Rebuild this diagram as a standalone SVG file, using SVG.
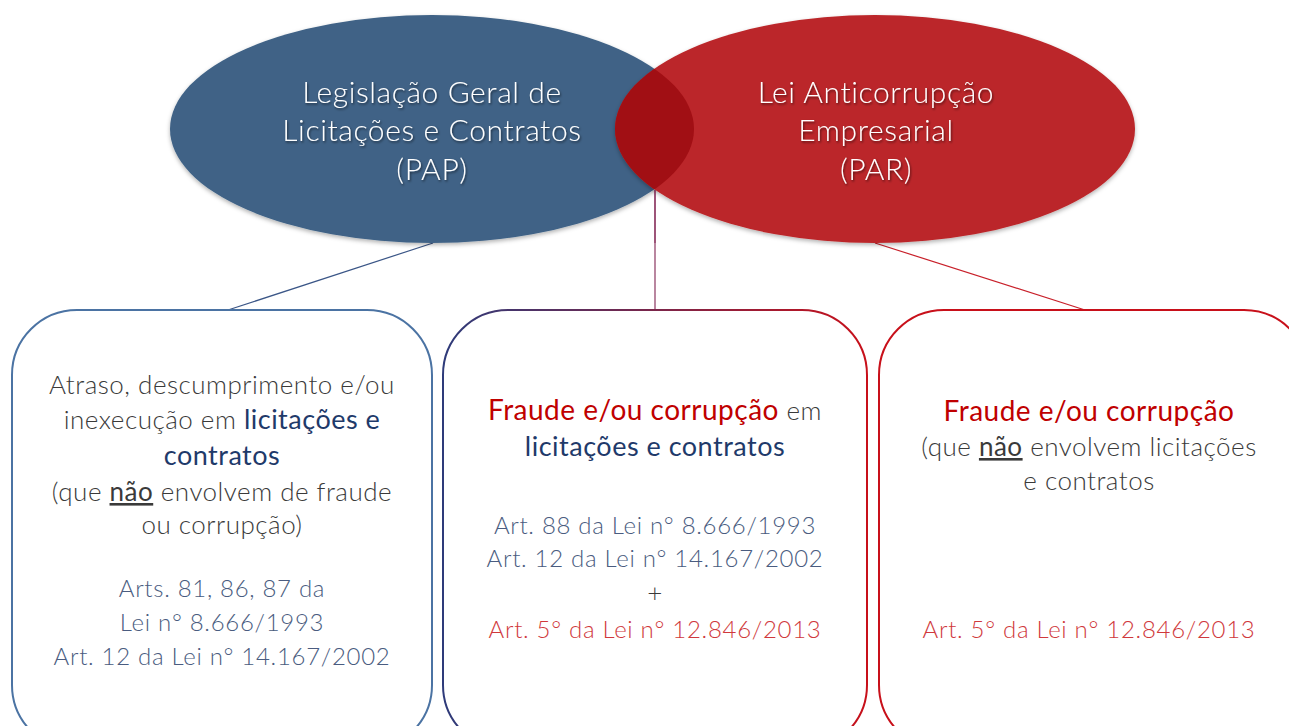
<svg xmlns="http://www.w3.org/2000/svg" width="1289" height="726" viewBox="0 0 1289 726">
<defs>
<style>
text{font-family:Lato,"Open Sans","Liberation Sans",sans-serif;text-anchor:middle}
.et{fill:#fff;font-size:30px;font-weight:300;letter-spacing:0.6px;filter:url(#ts)}
.bt{font-size:26px;font-weight:300;fill:#3a3a3a;letter-spacing:0.5px}
.nv{fill:#1f3a6a;font-weight:400;font-size:27px}
.rd{fill:#c00000;font-weight:400;font-size:28px}
.ar{fill:#4a5c80;font-size:24px;letter-spacing:0.7px}
.ar2{fill:#d0393c;font-size:24px;letter-spacing:0.7px}
.box{fill:#fff;stroke-width:2}
</style>
<filter id="ts" x="-10%" y="-10%" width="120%" height="130%"><feDropShadow dx="1" dy="1.5" stdDeviation="1" flood-color="#000" flood-opacity="0.55"/></filter>
<filter id="es" x="-5%" y="-5%" width="110%" height="115%"><feDropShadow dx="0" dy="2" stdDeviation="2" flood-color="#000" flood-opacity="0.3"/></filter>
<clipPath id="cb"><ellipse cx="432" cy="129" rx="262" ry="114"/></clipPath>
<linearGradient id="g2" x1="0" y1="0" x2="1" y2="0"><stop offset="0" stop-color="#2e3b7a"/><stop offset="1" stop-color="#c8101a"/></linearGradient>
</defs>
<rect width="1289" height="726" fill="#fff"/>
<g id="connectors" fill="none" stroke-width="1.2">
<line x1="433" y1="243" x2="228" y2="310" stroke="#3b5687"/>
<line x1="655" y1="190" x2="655" y2="310" stroke="#8a3560"/>
<line x1="875" y1="243" x2="1085" y2="310" stroke="#c8202a"/>
</g>
<g id="ellipse-pap">
<ellipse cx="432" cy="129" rx="262" ry="114" fill="#3f6286" filter="url(#es)"/>
</g>
<g id="ellipse-par">
<ellipse cx="875" cy="129" rx="260" ry="114" fill="#bb2629" filter="url(#es)"/>
<ellipse cx="875" cy="129" rx="260" ry="114" fill="#a10f14" clip-path="url(#cb)"/>
<line x1="655" y1="190" x2="655" y2="243" stroke="#8a3560" stroke-width="1.2"/>
</g>
<g id="label-pap">
<text class="et" x="432" y="103">Legislação Geral de</text>
<text class="et" x="432" y="141">Licitações e Contratos</text>
<text class="et" x="432" y="180">(PAP)</text>
</g>
<g id="label-par">
<text class="et" x="876" y="103">Lei Anticorrupção</text>
<text class="et" x="876" y="141">Empresarial</text>
<text class="et" x="876" y="180">(PAR)</text>
</g>
<g id="box1">
<rect class="box" x="12" y="310" width="420" height="440" rx="65" stroke="#4b73a3"/>
<text class="bt" x="222" y="394">Atraso, descumprimento e/ou</text>
<text class="bt" x="222" y="429">inexecução em <tspan class="nv">licitações e</tspan></text>
<text class="bt nv" x="222" y="465">contratos</text>
<text class="bt" x="222" y="501">(que <tspan text-decoration="underline" font-weight="400">não</tspan> envolvem de fraude</text>
<text class="bt" x="222" y="534">ou corrupção)</text>
<text class="bt ar" x="222" y="597">Arts. 81, 86, 87 da</text>
<text class="bt ar" x="222" y="631">Lei n° 8.666/1993</text>
<text class="bt ar" x="222" y="665">Art. 12 da Lei n° 14.167/2002</text>
</g>
<g id="box2">
<rect class="box" x="443" y="310" width="424" height="440" rx="65" stroke="url(#g2)"/>
<text class="bt" x="655" y="420"><tspan class="rd">Fraude e/ou corrupção</tspan> em</text>
<text class="bt nv" x="655" y="456">licitações e contratos</text>
<text class="bt ar" x="655" y="534">Art. 88 da Lei n° 8.666/1993</text>
<text class="bt ar" x="655" y="567">Art. 12 da Lei n° 14.167/2002</text>
<text class="bt" x="655" y="602" fill="#222">+</text>
<text class="bt ar2" x="655" y="638">Art. 5° da Lei n° 12.846/2013</text>
</g>
<g id="box3">
<rect class="box" x="879" y="310" width="430" height="440" rx="65" stroke="#c8101a"/>
<text class="bt rd" x="1089" y="421">Fraude e/ou corrupção</text>
<text class="bt" x="1089" y="456">(que <tspan text-decoration="underline" font-weight="400">não</tspan> envolvem licitações</text>
<text class="bt" x="1089" y="490">e contratos</text>
<text class="bt ar2" x="1089" y="638">Art. 5° da Lei n° 12.846/2013</text>
</g>
</svg>
